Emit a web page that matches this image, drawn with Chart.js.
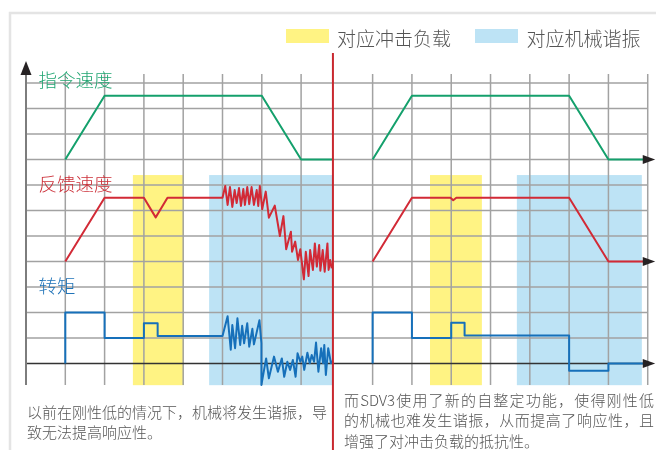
<!DOCTYPE html>
<html>
<head>
<meta charset="utf-8">
<script src="https://cdn.jsdelivr.net/npm/chart.js@4.4.1/dist/chart.umd.min.js"></script>
<style>
html, body { margin: 0; padding: 0; background: #fff; }
#wrap { position: relative; width: 656px; height: 450px; overflow: hidden;
        font-family: "Noto Sans CJK SC", "Noto Sans", sans-serif; font-weight: 300; }
#chart { position: absolute; left: 0; top: 0; }
.txt { position: absolute; white-space: nowrap; line-height: 1; }
.swatch { position: absolute; width: 43px; height: 14px; }
.legend { font-size: 19px; color: #555; }
.name { font-size: 18.5px; }
.note { font-size: 15px; color: #555; }
.just { text-align: justify; text-align-last: justify; }
</style>
</head>
<body>
<div id="wrap">
  <canvas id="chart" width="656" height="450"></canvas>
</div>
<script>
// time in grid columns (per panel), values in grid rows above each signal's baseline
const panelOffsets = [0, 7.82];
const dividerAt = 7.81;

const cmdSpeedOld = [[1,0],[2,2.5],[6,2.5],[7,0],[7.81,0]];
const cmdSpeedNew = [[1,0],[2,2.5],[6,2.5],[7,0],[8,0]];

const fbSpeedOld = [[1,0],[2,2.5],[3,2.5],[3.3,1.73],[3.6,2.5],[5,2.5],
  [5.07,2.96],[5.13,2.22],[5.19,2.92],[5.25,2.14],[5.31,2.80],[5.36,2.29],[5.42,2.88],[5.47,2.18],
  [5.53,2.84],[5.57,2.22],[5.63,2.92],[5.68,2.25],[5.74,2.92],[5.80,2.22],[5.87,2.80],[5.91,2.18],
  [5.95,2.96],[6.01,2.05],[6.10,2.74],[6.18,1.72],[6.33,2.19],[6.46,1.0],[6.55,1.78],[6.62,0.48],
  [6.74,1.17],[6.77,0.38],[6.85,0.78],[6.92,0.06],[6.98,0.48],[7.07,-0.70],[7.12,0.38],[7.19,-0.57],
  [7.23,0.45],[7.30,-0.33],[7.35,0.71],[7.40,-0.20],[7.46,0.65],[7.49,-0.36],[7.55,0.45],[7.60,-0.40],
  [7.67,0.71],[7.70,-0.33],[7.74,0.06],[7.78,-0.27]];
const fbSpeedNew = [[1,0],[2,2.5],[2.98,2.5],[3.05,2.4],[3.13,2.5],[6,2.5],[7,0],[8,0]];

const torqueOld = [[1,0],[1,2],[2,2],[2,1],[3,1],[3,1.58],[3.35,1.58],[3.35,1.08],[5,1.08],
  [5.13,1.85],[5.21,0.54],[5.25,1.51],[5.32,0.60],[5.38,1.77],[5.45,0.73],[5.50,1.48],[5.55,0.79],
  [5.63,1.58],[5.68,0.66],[5.76,1.36],[5.80,0.75],[5.94,1.70],[5.99,0.80],[5.99,-0.84],[6.11,0.20],
  [6.18,-0.58],[6.31,0.27],[6.41,-0.32],[6.51,0.20],[6.57,-0.52],[6.65,0.07],[6.72,-0.25],[6.79,0.14],
  [6.86,-0.52],[6.91,0.40],[6.98,0.07],[7.03,0.27],[7.08,-0.25],[7.16,0.42],[7.22,0.01],[7.27,0.33],
  [7.33,0.07],[7.38,0.82],[7.44,-0.32],[7.51,0.60],[7.56,0.01],[7.59,0.73],[7.63,-0.45],[7.69,0.60],
  [7.76,0.01],[7.80,0.1]];
const torqueNew = [[1,0],[1,2],[2,2],[2,1],[3,1],[3,1.6],[3.34,1.6],[3.34,1.1],[6,1.1],[6,-0.28],
  [7,-0.28],[7,0],[8,0]];

// highlighted zones per panel: [from, to] in columns
const shockZones = [[2.72, 4.02], [2.46, 3.78]];
const resonanceZones = [[4.66, 7.80], [4.67, 7.85]];
const zoneRows = [-0.85, 7.39];

const seriesNames = ["指令速度", "反馈速度", "转矩"];
const seriesBase = [8, 4, 0];
const legendNames = ["对应冲击负载", "对应机械谐振"];
const notesOld = ["以前在刚性低的情况下，机械将发生谐振，导", "致无法提高响应性。"];
const notesNew = ["而SDV3使用了新的自整定功能，使得刚性低", "的机械也难发生谐振，从而提高了响应性，且", "增强了对冲击负载的抵抗性。"];

// layout (pixels)
const W = 656, H = 450, X0 = 26, DX = 39.3, Y0 = 363.5, DY = 25.5;
const COLS = 8, ROWS = 11, GRID_TOP = 11.35, GRID_BOTTOM = -0.84;
const colors = ["#14a06c", "#d22a36", "#1670ba"];
const labelColors = ["#22a673", "#cc3039", "#1f73b8"];

function toPoints(arr, xOff, yOff) {
    return arr.map(p => ({ x: p[0] + xOff, y: p[1] + yOff }));
}

const seriesData = [[cmdSpeedOld, cmdSpeedNew], [fbSpeedOld, fbSpeedNew], [torqueOld, torqueNew]];
const datasets = [];
seriesData.forEach((pair, i) => {
    pair.forEach((arr, p) => {
        datasets.push({
            label: seriesNames[i],
            data: toPoints(arr, panelOffsets[p], seriesBase[i]),
            borderColor: colors[i],
            borderWidth: 2,
            pointRadius: 0,
            showLine: true,
            tension: 0,
            borderJoinStyle: "round"
        });
    });
});

const overlay = {
    id: "overlay",
    beforeDatasetsDraw(chart) {
        const ctx = chart.ctx;
        const x = chart.scales.x, y = chart.scales.y;
        ctx.save();

        // outer frame
        ctx.strokeStyle = "#e4e4e4";
        ctx.lineWidth = 2.5;
        ctx.strokeRect(10, 13, W + 20, H + 20);

        // zones
        const yTop = y.getPixelForValue(zoneRows[1]);
        const yBot = y.getPixelForValue(zoneRows[0]);
        [[shockZones, "#fff383"], [resonanceZones, "#bde3f5"]].forEach(([zones, c]) => {
            ctx.fillStyle = c;
            zones.forEach((z, p) => {
                const a = x.getPixelForValue(z[0] + panelOffsets[p]);
                const b = x.getPixelForValue(z[1] + panelOffsets[p]);
                ctx.fillRect(a, yTop, b - a, yBot - yTop);
            });
        });

        // grid
        ctx.strokeStyle = "#a2a2a2";
        ctx.lineWidth = 1.5;
        ctx.beginPath();
        const gTop = y.getPixelForValue(GRID_TOP), gBot = y.getPixelForValue(GRID_BOTTOM);
        for (let c = 1; c <= 7; c++) {
            const px = x.getPixelForValue(c);
            ctx.moveTo(px, gTop); ctx.lineTo(px, gBot);
        }
        for (let c = 1; c <= COLS; c++) {
            const px = x.getPixelForValue(c + panelOffsets[1]);
            ctx.moveTo(px, gTop); ctx.lineTo(px, gBot);
        }
        const xl = x.getPixelForValue(0), xr = x.getPixelForValue(COLS + panelOffsets[1]);
        for (let r = 1; r <= ROWS; r++) {
            const py = y.getPixelForValue(r);
            ctx.moveTo(xl, py); ctx.lineTo(xr, py);
        }
        ctx.stroke();

        // torque zero axis
        ctx.strokeStyle = "#333";
        ctx.lineWidth = 1.5;
        ctx.beginPath();
        ctx.moveTo(xl, y.getPixelForValue(0));
        ctx.lineTo(xr, y.getPixelForValue(0));
        ctx.stroke();
        ctx.restore();
    },
    afterDatasetsDraw(chart) {
        const ctx = chart.ctx;
        const x = chart.scales.x, y = chart.scales.y;
        ctx.save();

        // vertical axis with arrow
        const ax = x.getPixelForValue(0);
        const aTop = y.getPixelForValue(GRID_TOP);
        ctx.strokeStyle = "#7d7d7d";
        ctx.lineWidth = 2;
        ctx.beginPath();
        ctx.moveTo(ax, y.getPixelForValue(GRID_BOTTOM));
        ctx.lineTo(ax, aTop);
        ctx.stroke();
        ctx.fillStyle = "#262223";
        ctx.beginPath();
        ctx.moveTo(ax, aTop - 13);
        ctx.lineTo(ax - 5.5, aTop + 1);
        ctx.lineTo(ax + 5.5, aTop + 1);
        ctx.closePath();
        ctx.fill();

        // right-hand arrows on each baseline
        const xr = x.getPixelForValue(COLS + panelOffsets[1]);
        seriesBase.forEach(b => {
            const py = y.getPixelForValue(b);
            ctx.beginPath();
            ctx.moveTo(xr + 7.5, py);
            ctx.lineTo(xr - 5, py - 4.5);
            ctx.lineTo(xr - 5, py + 4.5);
            ctx.closePath();
            ctx.fill();
        });

        // divider between panels
        const dx = x.getPixelForValue(dividerAt);
        ctx.strokeStyle = "#c9282f";
        ctx.lineWidth = 2;
        ctx.beginPath();
        ctx.moveTo(dx, 53);
        ctx.lineTo(dx, H);
        ctx.stroke();
        ctx.restore();
    }
};

new Chart(document.getElementById("chart"), {
    type: "scatter",
    data: { datasets: datasets },
    options: {
        responsive: false,
        animation: false,
        events: [],
        layout: { padding: 0 },
        plugins: { legend: { display: false }, tooltip: { enabled: false } },
        scales: {
            x: { type: "linear", min: -X0 / DX, max: (W - X0) / DX, display: false },
            y: { type: "linear", min: (Y0 - H) / DY, max: Y0 / DY, display: false }
        }
    },
    plugins: [overlay]
});

// text overlays
const wrap = document.getElementById("wrap");
function addText(cls, text, left, top, color, width) {
    const el = document.createElement("div");
    el.className = "txt " + cls;
    el.textContent = text;
    el.style.left = left + "px";
    el.style.top = top + "px";
    if (color) el.style.color = color;
    if (width) el.style.width = width + "px";
    wrap.appendChild(el);
}
function addSwatch(left, top, color) {
    const el = document.createElement("div");
    el.className = "swatch";
    el.style.left = left + "px";
    el.style.top = top + "px";
    el.style.background = color;
    wrap.appendChild(el);
}

addSwatch(286, 29, "#fff383");
addText("legend", legendNames[0], 337, 27.6);
addSwatch(475, 29, "#bde3f5");
addText("legend", legendNames[1], 526.5, 27.6);

const nameTops = [69.6, 173.8, 276];
seriesNames.forEach((n, i) => addText("name", n, 38.5, nameTops[i], labelColors[i]));

notesOld.forEach((t, i) => addText("note" + (i < notesOld.length - 1 ? " just" : ""), t, 27, 404 + i * 20, null, i < notesOld.length - 1 ? 299 : 0));
notesNew.forEach((t, i) => addText("note" + (i < notesNew.length - 1 ? " just" : ""), t, 344, 391.6 + i * 20.7, null, i < notesNew.length - 1 ? 310 : 0));
</script>
</body>
</html>
